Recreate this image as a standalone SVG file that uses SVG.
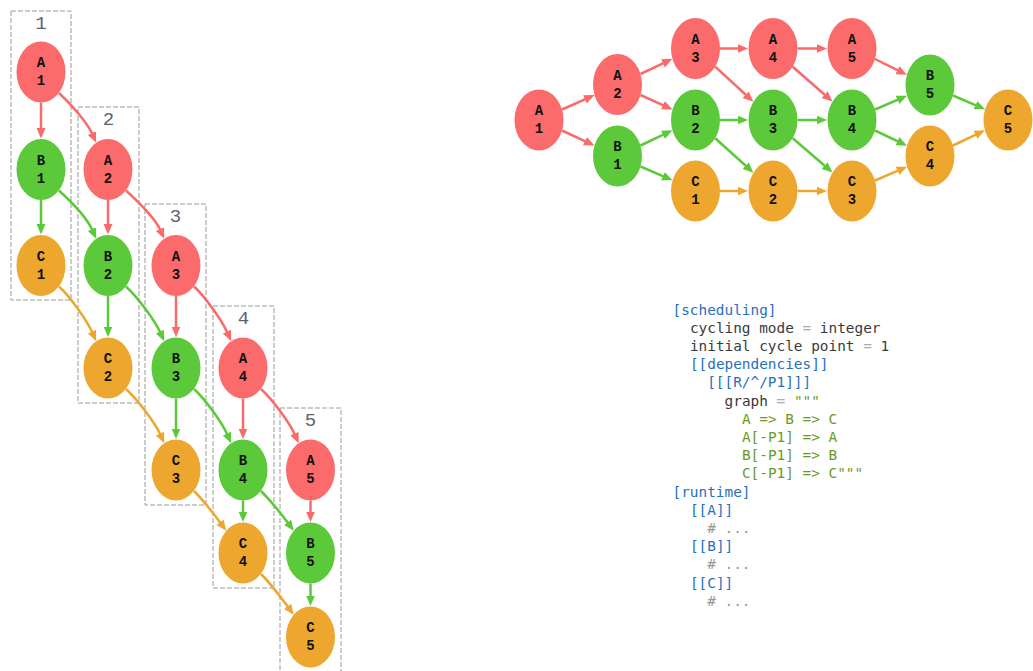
<svg xmlns="http://www.w3.org/2000/svg" width="1033" height="671" viewBox="0 0 1033 671">
<defs>
<style>
.cl{fill:none;stroke:#9a9a9a;stroke-width:1;stroke-dasharray:5,2}
.cll{font-family:"Courier New","Liberation Mono",monospace;font-size:19px;fill:#5d6170;text-anchor:middle}
.na{fill:#fb6b6b}
.nb{fill:#5cc93b}
.nc{fill:#eea72e}
.nt{font-family:"Courier New","Liberation Mono",monospace;font-weight:bold;font-size:14px;fill:#111;text-anchor:middle}
.er{fill:none;stroke:#f96a6a;stroke-width:2.5;marker-end:url(#mr)}
.eg{fill:none;stroke:#5cc93b;stroke-width:2.5;marker-end:url(#mg)}
.eo{fill:none;stroke:#eea72e;stroke-width:2.5;marker-end:url(#mo)}
.code{font-family:"DejaVu Sans Mono",monospace;font-size:14.4px;white-space:pre}
.k{fill:#2a6fbd}
.t{fill:#3a3a3a}
.q{fill:#aaaaaa}
.s{fill:#6b9a1e}
.c{fill:#999999}
</style>
<marker id="mr" markerUnits="userSpaceOnUse" markerWidth="11" markerHeight="10" refX="0.5" refY="4.5" orient="auto" viewBox="0 0 11 10"><path d="M0,0 L10.5,4.5 L0,9 Z" fill="#f96a6a"/></marker>
<marker id="mg" markerUnits="userSpaceOnUse" markerWidth="11" markerHeight="10" refX="0.5" refY="4.5" orient="auto" viewBox="0 0 11 10"><path d="M0,0 L10.5,4.5 L0,9 Z" fill="#5cc93b"/></marker>
<marker id="mo" markerUnits="userSpaceOnUse" markerWidth="11" markerHeight="10" refX="0.5" refY="4.5" orient="auto" viewBox="0 0 11 10"><path d="M0,0 L10.5,4.5 L0,9 Z" fill="#eea72e"/></marker>
</defs>
<rect width="1033" height="671" fill="#ffffff"/>

<!-- left graph clusters -->
<g id="cluster1"><rect class="cl" x="11" y="11" width="60" height="289"/><text class="cll" x="41" y="28.5">1</text></g>
<g id="cluster2"><rect class="cl" x="78" y="107" width="61" height="296"/><text class="cll" x="108.5" y="124.5">2</text></g>
<g id="cluster3"><rect class="cl" x="145" y="204" width="61" height="301"/><text class="cll" x="175.5" y="221.5">3</text></g>
<g id="cluster4"><rect class="cl" x="213" y="306" width="61" height="282"/><text class="cll" x="243.5" y="323.5">4</text></g>
<g id="cluster5"><rect class="cl" x="280" y="408" width="61" height="280"/><text class="cll" x="310.5" y="425.5">5</text></g>

<!-- left graph connectors -->
<g id="left-edges">
<path class="er" d="M41,102.5 L41,128.5"/>
<path class="eg" d="M41,200 L41,224.5"/>
<path class="er" d="M108,200 L108,224.5"/>
<path class="eg" d="M108,296 L108,327"/>
<path class="er" d="M176,296 L176,327"/>
<path class="eg" d="M176,398.5 L176,429"/>
<path class="er" d="M243,398.5 L243,429"/>
<path class="eg" d="M243,500.5 L243,512"/>
<path class="er" d="M310.5,500.5 L310.5,512"/>
<path class="eg" d="M310.5,583.5 L310.5,596"/>
<path class="er" d="M59,93 C71,104 87.1,122.6 92.1,133.6"/>
<path class="er" d="M126,190.5 C138,201.5 155.1,218.6 160.1,229.6"/>
<path class="er" d="M194,286.5 C206,297.5 222.1,321.1 227.1,332.1"/>
<path class="er" d="M261,389 C273,400 289.6,423.1 294.6,434.1"/>
<path class="eg" d="M59,190.5 C71,201.5 87.1,218.6 92.1,229.6"/>
<path class="eg" d="M126,286.5 C138,297.5 155.1,321.1 160.1,332.1"/>
<path class="eg" d="M194,389 C206,400 222.1,423.1 227.1,434.1"/>
<path class="eg" d="M261,491 C272,502 281.8,514.7 287.8,522.7"/>
<path class="eo" d="M59,286.5 C71,297.5 87.1,321.1 92.1,332.1"/>
<path class="eo" d="M126,389 C138,400 155.1,423.1 160.1,434.1"/>
<path class="eo" d="M194,491 C205,502 214.3,514.7 220.3,522.7"/>
<path class="eo" d="M261,574 C272,585 281.8,598.7 287.8,606.7"/>
</g>

<!-- left graph nodes -->
<g id="L-A1"><ellipse class="na" cx="41" cy="72" rx="24.5" ry="30.5"/><text class="nt" x="41" y="67">A</text><text class="nt" x="41" y="85">1</text></g>
<g id="L-B1"><ellipse class="nb" cx="41" cy="169.5" rx="24.5" ry="30.5"/><text class="nt" x="41" y="164.5">B</text><text class="nt" x="41" y="182.5">1</text></g>
<g id="L-C1"><ellipse class="nc" cx="41" cy="265.5" rx="24.5" ry="30.5"/><text class="nt" x="41" y="260.5">C</text><text class="nt" x="41" y="278.5">1</text></g>
<g id="L-A2"><ellipse class="na" cx="108" cy="169.5" rx="24.5" ry="30.5"/><text class="nt" x="108" y="164.5">A</text><text class="nt" x="108" y="182.5">2</text></g>
<g id="L-B2"><ellipse class="nb" cx="108" cy="265.5" rx="24.5" ry="30.5"/><text class="nt" x="108" y="260.5">B</text><text class="nt" x="108" y="278.5">2</text></g>
<g id="L-C2"><ellipse class="nc" cx="108" cy="368" rx="24.5" ry="30.5"/><text class="nt" x="108" y="363">C</text><text class="nt" x="108" y="381">2</text></g>
<g id="L-A3"><ellipse class="na" cx="176" cy="265.5" rx="24.5" ry="30.5"/><text class="nt" x="176" y="260.5">A</text><text class="nt" x="176" y="278.5">3</text></g>
<g id="L-B3"><ellipse class="nb" cx="176" cy="368" rx="24.5" ry="30.5"/><text class="nt" x="176" y="363">B</text><text class="nt" x="176" y="381">3</text></g>
<g id="L-C3"><ellipse class="nc" cx="176" cy="470" rx="24.5" ry="30.5"/><text class="nt" x="176" y="465">C</text><text class="nt" x="176" y="483">3</text></g>
<g id="L-A4"><ellipse class="na" cx="243" cy="368" rx="24.5" ry="30.5"/><text class="nt" x="243" y="363">A</text><text class="nt" x="243" y="381">4</text></g>
<g id="L-B4"><ellipse class="nb" cx="243" cy="470" rx="24.5" ry="30.5"/><text class="nt" x="243" y="465">B</text><text class="nt" x="243" y="483">4</text></g>
<g id="L-C4"><ellipse class="nc" cx="243" cy="553" rx="24.5" ry="30.5"/><text class="nt" x="243" y="548">C</text><text class="nt" x="243" y="566">4</text></g>
<g id="L-A5"><ellipse class="na" cx="310.5" cy="470" rx="24.5" ry="30.5"/><text class="nt" x="310.5" y="465">A</text><text class="nt" x="310.5" y="483">5</text></g>
<g id="L-B5"><ellipse class="nb" cx="310.5" cy="553" rx="24.5" ry="30.5"/><text class="nt" x="310.5" y="548">B</text><text class="nt" x="310.5" y="566">5</text></g>
<g id="L-C5"><ellipse class="nc" cx="310.5" cy="637" rx="24.5" ry="30.5"/><text class="nt" x="310.5" y="632">C</text><text class="nt" x="310.5" y="650">5</text></g>

<!-- right graph connectors -->
<g id="right-edges">
<path class="er" d="M562,109.5 L585.4,99.1"/>
<path class="er" d="M562,130.5 L585.4,141.4"/>
<path class="er" d="M640.5,74 L663.4,63.1"/>
<path class="er" d="M640.5,95 L663.4,105.4"/>
<path class="eg" d="M640.5,145.5 L663.4,134.6"/>
<path class="eg" d="M640.5,166.5 L663.4,176.4"/>
<path class="er" d="M720,48.5 L738,48.5"/>
<path class="er" d="M715.2,66.7 L746,95"/>
<path class="eg" d="M720,120 L738,120"/>
<path class="eg" d="M715.2,138.2 L746,166"/>
<path class="eo" d="M720,191 L738,191"/>
<path class="er" d="M797.5,48.5 L817,48.5"/>
<path class="er" d="M792.7,66.7 L825,95"/>
<path class="eg" d="M797.5,120 L817,120"/>
<path class="eg" d="M792.7,138.2 L825,166"/>
<path class="eo" d="M797.5,191 L817,191"/>
<path class="er" d="M875,59 L897.9,70.4"/>
<path class="eg" d="M875,109.5 L897.9,99.6"/>
<path class="eg" d="M875,130.5 L897.9,141.4"/>
<path class="eo" d="M875,180.5 L897.9,170.6"/>
<path class="eg" d="M953,95.5 L975.9,105.4"/>
<path class="eo" d="M953,145.5 L975.9,134.6"/>
</g>

<!-- right graph nodes -->
<g id="R-A1"><ellipse class="na" cx="539" cy="120" rx="24.5" ry="30.5"/><text class="nt" x="539" y="115">A</text><text class="nt" x="539" y="133">1</text></g>
<g id="R-A2"><ellipse class="na" cx="617.5" cy="84.5" rx="24.5" ry="30.5"/><text class="nt" x="617.5" y="79.5">A</text><text class="nt" x="617.5" y="97.5">2</text></g>
<g id="R-B1"><ellipse class="nb" cx="617.5" cy="156" rx="24.5" ry="30.5"/><text class="nt" x="617.5" y="151">B</text><text class="nt" x="617.5" y="169">1</text></g>
<g id="R-A3"><ellipse class="na" cx="695.5" cy="48.5" rx="24.5" ry="30.5"/><text class="nt" x="695.5" y="43.5">A</text><text class="nt" x="695.5" y="61.5">3</text></g>
<g id="R-B2"><ellipse class="nb" cx="695.5" cy="120" rx="24.5" ry="30.5"/><text class="nt" x="695.5" y="115">B</text><text class="nt" x="695.5" y="133">2</text></g>
<g id="R-C1"><ellipse class="nc" cx="695.5" cy="191" rx="24.5" ry="30.5"/><text class="nt" x="695.5" y="186">C</text><text class="nt" x="695.5" y="204">1</text></g>
<g id="R-A4"><ellipse class="na" cx="773" cy="48.5" rx="24.5" ry="30.5"/><text class="nt" x="773" y="43.5">A</text><text class="nt" x="773" y="61.5">4</text></g>
<g id="R-B3"><ellipse class="nb" cx="773" cy="120" rx="24.5" ry="30.5"/><text class="nt" x="773" y="115">B</text><text class="nt" x="773" y="133">3</text></g>
<g id="R-C2"><ellipse class="nc" cx="773" cy="191" rx="24.5" ry="30.5"/><text class="nt" x="773" y="186">C</text><text class="nt" x="773" y="204">2</text></g>
<g id="R-A5"><ellipse class="na" cx="852" cy="48.5" rx="24.5" ry="30.5"/><text class="nt" x="852" y="43.5">A</text><text class="nt" x="852" y="61.5">5</text></g>
<g id="R-B4"><ellipse class="nb" cx="852" cy="120" rx="24.5" ry="30.5"/><text class="nt" x="852" y="115">B</text><text class="nt" x="852" y="133">4</text></g>
<g id="R-C3"><ellipse class="nc" cx="852" cy="191" rx="24.5" ry="30.5"/><text class="nt" x="852" y="186">C</text><text class="nt" x="852" y="204">3</text></g>
<g id="R-B5"><ellipse class="nb" cx="930" cy="85" rx="24.5" ry="30.5"/><text class="nt" x="930" y="80">B</text><text class="nt" x="930" y="98">5</text></g>
<g id="R-C4"><ellipse class="nc" cx="930" cy="156" rx="24.5" ry="30.5"/><text class="nt" x="930" y="151">C</text><text class="nt" x="930" y="169">4</text></g>
<g id="R-C5"><ellipse class="nc" cx="1008" cy="120" rx="24.5" ry="30.5"/><text class="nt" x="1008" y="115">C</text><text class="nt" x="1008" y="133">5</text></g>

<!-- code -->
<g id="code" class="code">
<text x="672.5" y="314.5" class="k">[scheduling]</text>
<text x="689.9" y="332.7"><tspan class="t">cycling mode </tspan><tspan class="q">=</tspan><tspan class="t"> integer</tspan></text>
<text x="689.9" y="350.9"><tspan class="t">initial cycle point </tspan><tspan class="q">=</tspan><tspan class="t"> 1</tspan></text>
<text x="689.9" y="369.1" class="k">[[dependencies]]</text>
<text x="707.2" y="387.3" class="k">[[[R/^/P1]]]</text>
<text x="724.6" y="405.5"><tspan class="t">graph </tspan><tspan class="q">=</tspan><tspan class="s"> """</tspan></text>
<text x="741.9" y="423.7" class="s">A =&gt; B =&gt; C</text>
<text x="741.9" y="441.9" class="s">A[-P1] =&gt; A</text>
<text x="741.9" y="460.1" class="s">B[-P1] =&gt; B</text>
<text x="741.9" y="478.3" class="s">C[-P1] =&gt; C"""</text>
<text x="672.5" y="496.5" class="k">[runtime]</text>
<text x="689.9" y="514.7" class="k">[[A]]</text>
<text x="707.2" y="532.9" class="c"># ...</text>
<text x="689.9" y="551.1" class="k">[[B]]</text>
<text x="707.2" y="569.3" class="c"># ...</text>
<text x="689.9" y="587.5" class="k">[[C]]</text>
<text x="707.2" y="605.7" class="c"># ...</text>
</g>
</svg>
